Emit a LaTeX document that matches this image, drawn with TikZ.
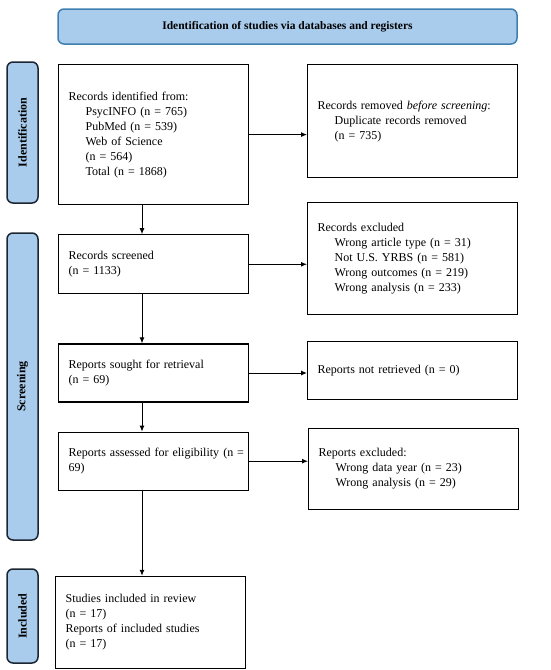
\documentclass[tikz,border=0pt]{standalone}
\usepackage{fontspec}
\setmainfont{Liberation Serif}
\usetikzlibrary{arrows.meta,positioning}
\definecolor{bandfill}{HTML}{A9CBEC}
\definecolor{banddraw}{HTML}{3F7FB0}
\definecolor{sidedraw}{HTML}{1C2633}
\newcommand{\ind}{\hspace*{17pt}}

\begin{document}
\begin{tikzpicture}[
        x=1pt, y=-1pt,
        font=\fontsize{12}{15}\selectfont,
        node distance=29pt,
        box/.style={
            rectangle,
            draw,
            line width=1.2pt,
            inner xsep=10pt,
            inner ysep=0pt,
            align=left
        },
        leftbox/.style={
            box,
            text width=170pt
        },
        rightbox/.style={
            box,
            text width=190pt,
            anchor=north west
        },
        banner/.style={
            rectangle,
            rounded corners=6pt,
            draw=banddraw,
            fill=bandfill,
            line width=1.5pt,
            minimum width=459pt,
            minimum height=35pt,
            font=\fontsize{11.5}{14}\selectfont\bfseries
        },
        phase/.style={
            rectangle,
            rounded corners=6pt,
            draw=sidedraw,
            fill=bandfill,
            line width=1.5pt,
            minimum height=31pt,
            rotate=90,
            font=\fontsize{12}{14}\selectfont\bfseries
        },
        arrow/.style={
            -{Latex[length=6pt,width=5pt]},
            line width=1pt
        }
    ]
    \useasboundingbox (0,0) rectangle (550,670);
    % Header and phase labels
    \node[banner] (head) at (287.5,26.5) {Identification of studies via databases and registers};
    \node[phase, minimum width=141pt] (ph_id) at (22.5,132.5) {Identification};
    \node[phase, minimum width=307pt] (ph_scr) at (22.5,386.5) {Screening};
    \node[phase, minimum width=94pt] (ph_inc) at (22.5,616) {Included};
    % Main column
    \node[leftbox, anchor=north west, minimum height=140pt] (rec_id) at (58,64) {
        Records identified from:\\
        \ind PsycINFO (n = 765)\\
        \ind PubMed (n = 539)\\
        \ind Web of Science\\
        \ind (n = 564)\\
        \ind Total (n = 1868)};
    \node[leftbox, minimum height=59pt, below=of rec_id] (rec_scr) {
        Records screened\\(n = 1133)};
    \node[leftbox, minimum height=58pt, below=49pt of rec_scr] (rep_sought) {
        Reports sought for retrieval\\(n = 69)};
    \node[leftbox, minimum height=58pt, below=of rep_sought] (rep_assess) {
        \mbox{Reports assessed for eligibility (n =}\\69)};
    \node[leftbox, minimum height=92pt, below=85pt of rep_assess, xshift=-3pt] (included) {
        Studies included in review\\
        (n = 17)\\
        Reports of included studies\\
        (n = 17)};
    % Side column
    \node[rightbox, minimum height=113pt] (removed) at (307,64) {
        Records removed \textit{before screening}:\\
        \ind Duplicate records removed\\
        \ind (n = 735)};
    \node[rightbox, minimum height=112pt] (rec_excl) at (307,202) {
        Records excluded\\
        \ind Wrong article type (n = 31)\\
        \ind Not U.S. YRBS (n = 581)\\
        \ind Wrong outcomes (n = 219)\\
        \ind Wrong analysis (n = 233)};
    \node[rightbox, minimum height=58pt] (not_ret) at (307,341) {
        Reports not retrieved (n = 0)};
    \node[rightbox, minimum height=81pt] (rep_excl) at (308,428) {
        Reports excluded:\\
        \ind Wrong data year (n = 23)\\
        \ind Wrong analysis (n = 29)};
    % Downward flow
    \coordinate (spine) at (142,0);
    \draw[arrow] (rec_id.south -| spine) -- (rec_scr.north -| spine);
    \draw[arrow] (rec_scr.south -| spine) -- (rep_sought.north -| spine);
    \draw[arrow] (rep_sought.south -| spine) -- (rep_assess.north -| spine);
    \draw[arrow] (rep_assess.south -| spine) -- (included.north -| spine);
    % Exclusions
    \draw[arrow] (rec_id.east) -- (rec_id.east -| removed.west);
    \draw[arrow] (rec_scr.east) -- (rec_scr.east -| rec_excl.west);
    \draw[arrow] (rep_sought.east) -- (rep_sought.east -| not_ret.west);
    \draw[arrow] (rep_assess.east) -- (rep_assess.east -| rep_excl.west);
\end{tikzpicture}
\end{document}
